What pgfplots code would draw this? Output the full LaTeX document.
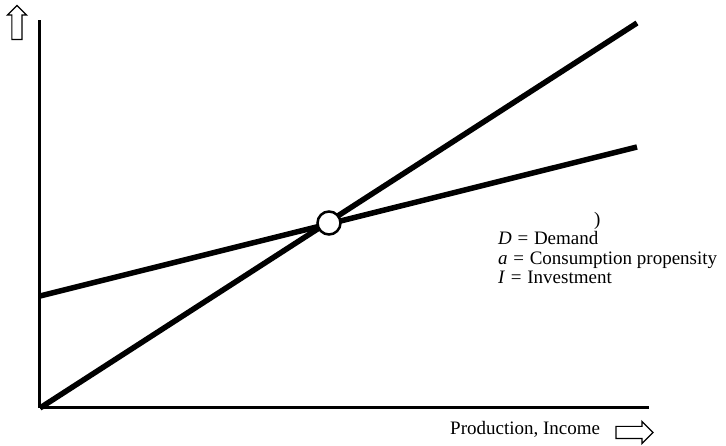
\documentclass[border=0pt]{standalone}
\usepackage{pgfplots}
\pgfplotsset{compat=1.18}
\usepackage{fontspec}
\setmainfont{Liberation Serif}
\usetikzlibrary{shapes.arrows}
\begin{document}
\begin{tikzpicture}
\begin{axis}[
  x=1pt, y=1pt,
  xmin=40, xmax=649, ymin=38, ymax=426,
  axis lines=left,
  axis line style={-, line width=3pt},
  ticks=none,
  clip=false,
  font=\fontsize{19}{22}\selectfont,
]
\path[use as bounding box] (axis cs:0,0) rectangle (axis cs:726,446);
% 45 degree line (production)
\addplot[line width=5.5pt, black] coordinates {(40,38) (637,423)};
% demand line
\addplot[line width=5.5pt, black] coordinates {(40,150) (637,299)};
% equilibrium
\addplot[only marks, mark=*, mark size=11.5pt, mark options={fill=white, draw=black, line width=2.5pt}] coordinates {(329,223)};
\node[anchor=base west, inner sep=0pt] at (axis cs:594,220) {)};
\node[anchor=base west, inner sep=0pt] at (axis cs:498,201) {\textit{D}\hspace{0.3em}=\hspace{0.3em}Demand};
\node[anchor=base west, inner sep=0pt] at (axis cs:498,181) {\textit{a}\hspace{0.3em}=\hspace{0.3em}Consumption propensity};
\node[anchor=base west, inner sep=0pt] at (axis cs:498,162) {\textit{I}\hspace{0.3em}=\hspace{0.3em}Investment};
\node[anchor=base west, inner sep=0pt] at (axis cs:450,11) {Production, Income};
\node[single arrow, draw=black, line width=1.2pt, fill=white, minimum height=37pt, inner sep=5.5pt, single arrow head extend=5pt, single arrow tip angle=90] at (axis cs:631.5,13.5) {};
\node[single arrow, draw=black, line width=1.2pt, fill=white, minimum height=34pt, inner sep=4.5pt, single arrow head extend=4.5pt, single arrow tip angle=90, rotate=90] at (axis cs:17,421) {};
\end{axis}
\end{tikzpicture}
\end{document}
